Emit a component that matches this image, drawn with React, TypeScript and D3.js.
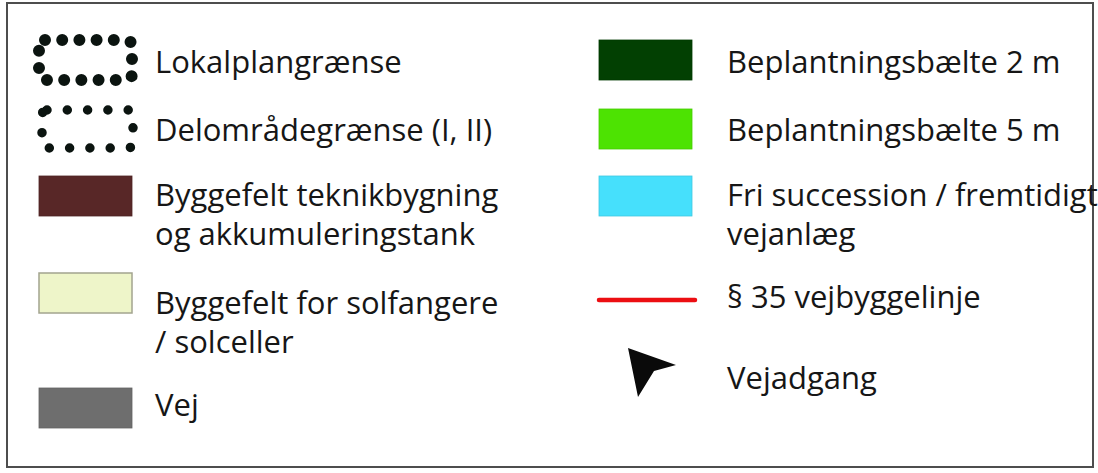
import React from "react";
import * as d3 from "d3";

// legend content, left column
const leftLabels = [
  ["Lokalplangrænse"],
  ["Delområdegrænse (I, II)"],
  ["Byggefelt teknikbygning", "og akkumuleringstank"],
  ["Byggefelt for solfangere", "/ solceller"],
  ["Vej"],
];
const leftKinds = ["dotsLarge", "dotsSmall", "fill", "fill", "fill"];
const leftColors = ["#0b1410", "#0b1410", "#582727", "#eef5c9", "#6e6e6e"];

// legend content, right column
const rightLabels = [
  ["Beplantningsbælte 2 m"],
  ["Beplantningsbælte 5 m"],
  ["Fri succession / fremtidigt", "vejanlæg"],
  ["§ 35 vejbyggelinje"],
  ["Vejadgang"],
];
const rightKinds = ["fill", "fill", "fill", "line", "arrow"];
const rightColors = ["#024002", "#4de302", "#46e0fc", "#ec0e12", "#0a0a0a"];

const W = 1098;
const H = 473;
const FONT = "'Open Sans', sans-serif";

// arrow glyph outline, relative to its centre
const arrowShape: [number, number][] = [
  [-23, -25], [25, -8], [3, -2], [-13, 24],
];

function Symbol({ kind, color, x, cy }: { kind: string; color: string; x: number; cy: number }) {
  const w = 93, h = 40;
  if (kind === "dotsLarge") {
    return (
      <rect x={x} y={cy - 20} width={93} height={40} rx={6}
        fill="none" stroke={color} strokeWidth={12}
        strokeDasharray="0 17.2" strokeLinecap="round" />
    );
  }
  if (kind === "dotsSmall") {
    return (
      <rect x={x + 3} y={cy - 19} width={91} height={38} rx={5}
        fill="none" stroke={color} strokeWidth={9.5}
        strokeDasharray="0 20.3" strokeLinecap="round" />
    );
  }
  if (kind === "line") {
    return (
      <line x1={x} x2={x + 96} y1={cy} y2={cy} stroke={color}
        strokeWidth={4.5} strokeLinecap="round" />
    );
  }
  if (kind === "arrow") {
    const line = d3.line().curve(d3.curveLinearClosed);
    return (
      <path transform={`translate(${x + 52},${cy})`} d={line(arrowShape) || ""} fill={color} />
    );
  }
  const pale = d3.hsl(color).l > 0.8;
  return (
    <rect x={x} y={cy - h / 2} width={w} height={h} fill={color}
      stroke={pale ? "#a3a48f" : d3.color(color)!.darker(0.3).toString()}
      strokeWidth={pale ? 1.5 : 0.8} />
  );
}

function Column({ labels, kinds, colors, symX, textX, rowY, baseY }: {
  labels: string[][]; kinds: string[]; colors: string[];
  symX: number; textX: number; rowY: number[]; baseY: number[];
}) {
  return (
    <g>
      {labels.map((lines, i) => (
        <g key={i}>
          <Symbol kind={kinds[i]} color={colors[i]} x={symX} cy={rowY[i]} />
          <text x={textX} y={baseY[i]} fontFamily={FONT} fontSize={31} fill="#161616">
            {lines.map((t, j) => (
              <tspan key={j} x={textX} dy={j === 0 ? 0 : 39}>{t}</tspan>
            ))}
          </text>
        </g>
      ))}
    </g>
  );
}

export default function App() {
  return (
    <svg width={W} height={H} style={{ position: "absolute", left: 0, top: 0, background: "#fff" }}>
      <rect x={7} y={3} width={1086} height={464} fill="#fff" stroke="#4e4e4e" strokeWidth={2} />
      <Column labels={leftLabels} kinds={leftKinds} colors={leftColors}
        symX={39} textX={155}
        rowY={[60, 129, 196, 293, 408]}
        baseY={[73, 141, 206, 314, 416]} />
      <Column labels={rightLabels} kinds={rightKinds} colors={rightColors}
        symX={599} textX={727}
        rowY={[60, 129, 196, 300, 373]}
        baseY={[73, 141, 206, 308, 389]} />
    </svg>
  );
}
